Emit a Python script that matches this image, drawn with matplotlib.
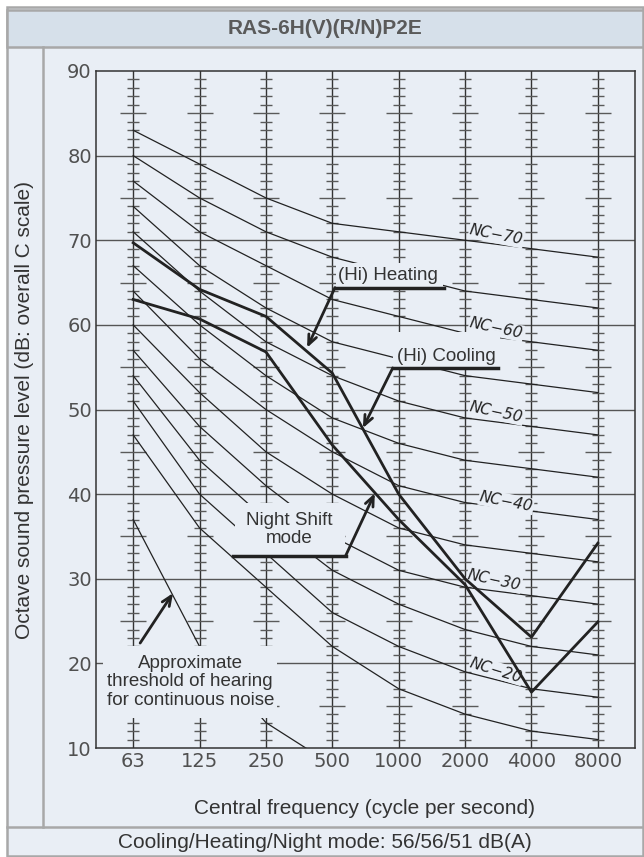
import matplotlib.pyplot as plt
from matplotlib.patches import Rectangle

# octave bands
freqs = ['63', '125', '250', '500', '1000', '2000', '4000', '8000']

# NC curves (dB per octave band)
nc_levels = [15, 20, 25, 30, 35, 40, 45, 50, 55, 60, 65, 70]
nc_curves = [
    [47, 36, 29, 22, 17, 14, 12, 11],
    [51, 40, 33, 26, 22, 19, 17, 16],
    [54, 44, 37, 31, 27, 24, 22, 21],
    [57, 48, 41, 35, 31, 29, 28, 27],
    [60, 52, 45, 40, 36, 34, 33, 32],
    [64, 56, 50, 45, 41, 39, 38, 37],
    [67, 60, 54, 49, 46, 44, 43, 42],
    [71, 64, 58, 54, 51, 49, 48, 47],
    [74, 67, 62, 58, 56, 54, 53, 52],
    [77, 71, 67, 63, 61, 59, 58, 57],
    [80, 75, 71, 68, 66, 64, 63, 62],
    [83, 79, 75, 72, 71, 70, 69, 68],
]
# threshold of hearing (first 4 bands)
threshold = [37, 22, 13, 8]

# measured unit spectra
mode_upper = [69.7, 64.2, 61.0, 54.3, 40.0, 30.0, 23.1, 34.2]
mode_lower = [63.0, 60.7, 56.8, 45.8, 37.0, 29.3, 16.6, 24.9]

BG = '#e9eef5'
BAND = '#d6e0ea'
EDGE = '#a8a8a8'
INK = '#222222'

W, H = 644, 857
fig = plt.figure(figsize=(W / 100, H / 100), dpi=100)
fig.patch.set_facecolor('white')


def fx(px):
    return px / W


def fy(py):
    return 1 - py / H


# frame / bands
fig.add_artist(Rectangle((fx(7), fy(856)), fx(636), (849) / H, transform=fig.transFigure,
                         facecolor=BG, edgecolor=EDGE, lw=1.8, zorder=0))
fig.add_artist(Rectangle((fx(7), fy(47)), fx(636), 37 / H, transform=fig.transFigure,
                         facecolor=BAND, edgecolor=EDGE, lw=1.8, zorder=0))
fig.add_artist(plt.Line2D([fx(7), fx(643)], [fy(827), fy(827)], transform=fig.transFigure,
                          color=EDGE, lw=1.8))
fig.add_artist(plt.Line2D([fx(43), fx(43)], [fy(47), fy(827)], transform=fig.transFigure,
                          color=EDGE, lw=1.8))

ax = fig.add_axes([fx(96), fy(748), 539 / W, 677 / H])
ax.set_facecolor('none')
ax.set_xlim(-0.56, 7.56)
ax.set_ylim(10, 90)

for s in ax.spines.values():
    s.set_color('#333333')
    s.set_linewidth(1.1)

# grid
for y in range(20, 90, 10):
    ax.axhline(y, color='#555555', lw=1.0, zorder=1)
xs = list(range(len(freqs)))
short_y = [v for v in range(11, 90) if v % 5 != 0]
long_y = [v for v in range(15, 90, 10)]
for x in xs:
    ax.axvline(x, color='#333333', lw=1.0, zorder=1.5)
    ax.plot([x] * len(short_y), short_y, ls='none', marker='_', ms=8.5, mew=1.0,
            color='#5a5a5a', zorder=1.5)
    ax.plot([x] * len(long_y), long_y, ls='none', marker='_', ms=19, mew=1.0,
            color='#5a5a5a', zorder=1.5)

# NC curves
for curve in nc_curves:
    ax.plot(xs, curve, color=INK, lw=0.9, zorder=2)
ax.plot(xs[:len(threshold)], threshold, color=INK, lw=0.9, zorder=2)

# masks behind annotation texts
masks = [(-0.45, 13.55, 2.62, 8.5), (1.53, 32.7, 1.66, 6.25),
         (3.05, 64.4, 1.61, 2.9), (3.91, 54.9, 1.61, 4.25)]
for mx, my, mw, mh in masks:
    ax.add_patch(Rectangle((mx, my), mw, mh, facecolor=BG, edgecolor='none', zorder=3))

# NC labels
nc_lab = [('70', 5.47, 70.6, -11), ('60', 5.47, 59.6, -12), ('50', 5.47, 49.7, -12),
          ('40', 5.62, 39.1, -11), ('30', 5.44, 29.85, -12), ('20', 5.47, 19.2, -17)]
for t, x, y, r in nc_lab:
    ax.text(x, y, 'NC\u2212' + t, fontsize=11, style='italic', color=INK,
            rotation=r, ha='center', va='center', rotation_mode='anchor', zorder=3.5,
            family='DejaVu Sans',
            bbox=dict(boxstyle='square,pad=0.05', facecolor=BG, edgecolor='none'))

# unit lines
ax.plot(xs, mode_upper, color=INK, lw=2.0, zorder=4)
ax.plot(xs, mode_lower, color=INK, lw=2.0, zorder=4)

arrow = dict(arrowstyle='->,head_length=0.7,head_width=0.3', lw=2.0, color=INK,
             shrinkA=0, shrinkB=0)
tf = dict(family='Liberation Sans', fontsize=13.5, color='#333333', zorder=5)

# (Hi) Heating
ax.plot([3.04, 4.69], [64.4, 64.4], color=INK, lw=2.5, zorder=4)
ax.annotate('', xy=(2.62, 57.3), xytext=(3.04, 64.4), arrowprops=arrow, zorder=4)
ax.text(3.08, 65.8, '(Hi) Heating', ha='left', va='center', **tf)

# (Hi) Cooling
ax.plot([3.91, 5.50], [54.9, 54.9], color=INK, lw=2.5, zorder=4)
ax.annotate('', xy=(3.46, 47.8), xytext=(3.91, 54.9), arrowprops=arrow, zorder=4)
ax.text(3.97, 56.3, '(Hi) Cooling', ha='left', va='center', **tf)

# Night Shift mode
ax.plot([1.50, 3.20], [32.7, 32.7], color=INK, lw=2.5, zorder=4)
ax.annotate('', xy=(3.64, 40.1), xytext=(3.20, 32.7), arrowprops=arrow, zorder=4)
ax.text(2.35, 35.8, 'Night Shift\nmode', ha='center', va='center', linespacing=1.1, **tf)

# threshold of hearing
ax.annotate('', xy=(0.60, 28.3), xytext=(0.105, 22.4), arrowprops=arrow, zorder=4)
ax.text(0.86, 17.8, 'Approximate\nthreshold of hearing\nfor continuous noise',
        ha='center', va='center', linespacing=1.15, **tf)

ax.set_xticks(xs)
ax.set_xticklabels(freqs)
ax.set_yticks(range(10, 91, 10))
ax.tick_params(length=0, labelsize=14, labelcolor='#505050', pad=3)

# outer texts
fig.text(fx(325), fy(29), 'RAS-6H(V)(R/N)P2E', ha='center', va='center',
         family='Liberation Sans', fontsize=15, fontweight='bold', color='#5a5a5a')
fig.text(fx(25), fy(410), 'Octave sound pressure level (dB: overall C scale)',
         rotation=90, ha='center', va='center', family='Liberation Sans',
         fontsize=15, color='#333333')
fig.text(fx(365), fy(808), 'Central frequency (cycle per second)', ha='center',
         va='center', family='Liberation Sans', fontsize=15, color='#333333')
fig.text(fx(325), fy(842), 'Cooling/Heating/Night mode: 56/56/51 dB(A)', ha='center',
         va='center', family='Liberation Sans', fontsize=15, color='#333333')

fig.savefig('out.png', dpi=100)
